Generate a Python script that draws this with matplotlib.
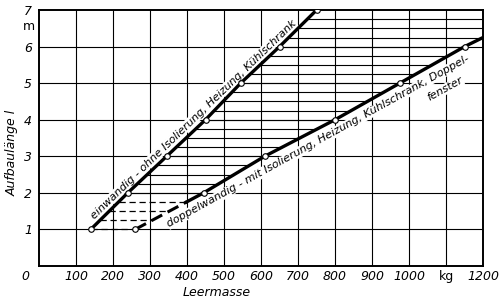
import numpy as np
import matplotlib
matplotlib.use('Agg')
import matplotlib.pyplot as plt

# data
masse_ein = [140, 240, 345, 450, 545, 650, 750]      # kg
laenge_ein = [1, 2, 3, 4, 5, 6, 7]                   # m
masse_dop = [260, 445, 610, 800, 975, 1150, 1200]    # kg
laenge_dop = [1, 2, 3, 4, 5, 6, 6.25]                # m
x_ticks = [100, 200, 300, 400, 500, 600, 700, 800, 900, 1000, 1200]
y_ticks = [1, 2, 3, 4, 5, 6, 7]

font = ['Liberation Sans Narrow', 'DejaVu Sans']
plt.rcParams['font.family'] = font
plt.rcParams['font.style'] = 'italic'

fig = plt.figure(figsize=(5, 3.06), dpi=100)
ax = fig.add_axes([0.078, 0.131, 0.888, 0.836])
ax.set_xlim(0, 1200)
ax.set_ylim(0, 7)

# grid
for x in range(100, 1200, 100):
    ax.axvline(x, color='black', lw=0.8, zorder=1)
for y in y_ticks[:-1]:
    ax.axhline(y, color='black', lw=0.8, zorder=1)

# hatching between the two curves (0.25 m steps)
for y in np.arange(1.0, 7.0, 0.25):
    x1 = np.interp(y, laenge_ein, masse_ein)
    x2 = np.interp(y, laenge_dop, masse_dop, right=1200)
    if y < 1.8:
        ax.hlines(y, x1, x2, color='black', lw=0.9, linestyles=(0, (5, 3)), zorder=2)
    else:
        ax.hlines(y, x1, x2, color='black', lw=0.8, zorder=2)

# curves
ax.plot(masse_ein, laenge_ein, color='black', lw=2.4, zorder=4)
ax.plot(masse_ein, laenge_ein, 'o', ms=4, mfc='white', mec='black', mew=0.8, zorder=5)
split = np.interp(1.75, laenge_dop, masse_dop)
ax.plot([masse_dop[0], split], [laenge_dop[0], 1.75], color='black', lw=2.2,
        ls=(0, (4, 2)), zorder=4)
ax.plot([split] + masse_dop[1:], [1.75] + laenge_dop[1:], color='black', lw=2.4, zorder=4)
ax.plot(masse_dop[:-1], laenge_dop[:-1], 'o', ms=4, mfc='white', mec='black', mew=0.8, zorder=5)

# labels on the curves
box = dict(facecolor='white', edgecolor='none', pad=0.3)
ax.text(149, 1.27, 'einwandig - ohne Isolierung, Heizung, Kühlschrank', rotation=44,
        rotation_mode='anchor', fontsize=8, bbox=box, zorder=3)
ax.text(352, 1.05, 'doppelwandig - mit Isolierung, Heizung, Kühlschrank, Doppel-', rotation=29,
        rotation_mode='anchor', fontsize=8, bbox=box, zorder=3)
ax.text(1055, 4.5, 'fenster', rotation=29, rotation_mode='anchor', fontsize=8,
        bbox=box, zorder=3)

# axes
for s in ax.spines.values():
    s.set_linewidth(1.4)
ax.set_xticks(x_ticks)
ax.set_xticklabels([str(v) for v in x_ticks], fontsize=9)
ax.set_yticks(y_ticks)
ax.set_yticklabels([str(v) for v in y_ticks], fontsize=9)
ax.tick_params(axis='x', length=0, pad=3)
ax.tick_params(axis='y', length=0, pad=5)
ax.text(1100, -0.28, 'kg', ha='center', va='center', fontsize=9, style='normal')
ax.text(-27, 6.55, 'm', ha='center', va='center', fontsize=9, style='normal')
ax.text(-38, -0.28, '0', ha='center', va='center', fontsize=9)
ax.text(480, -0.72, 'Leermasse', ha='center', va='center', fontsize=9)
ax.set_ylabel('Aufbaulänge l', fontsize=9)
ax.yaxis.set_label_coords(-0.045, 0.44)

fig.savefig('out.png', dpi=100)
